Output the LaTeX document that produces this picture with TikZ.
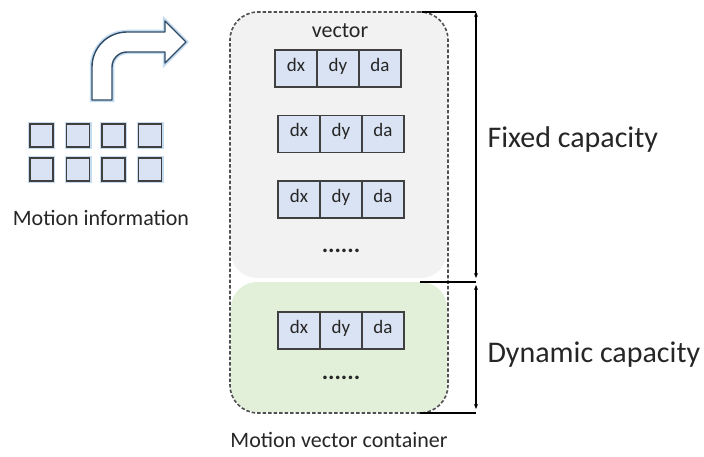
\documentclass[tikz,border=0pt]{standalone}
\usepackage{fontspec}
\setmainfont{Carlito}
\usepackage{tikz}
\usetikzlibrary{positioning,arrows.meta}
\definecolor{cellfill}{HTML}{DAE3F3}
\definecolor{cellline}{HTML}{404040}
\definecolor{glowc}{HTML}{C5DCF0}
\definecolor{arrowline}{HTML}{2F4A66}
\definecolor{fixedfill}{HTML}{F2F2F2}
\definecolor{dynfill}{HTML}{E2F0D9}
\definecolor{dashc}{HTML}{505050}
\colorlet{textc}{black!85}
\newcommand{\vecrow}[3]{% dx dy da
\node[cell] (#1x) at (#2,#3) {dx};
\node[cell, right=0pt of #1x] (#1y) {dy};
\node[cell, right=0pt of #1y] (#1a) {da};
}
\tikzstyle{cell} = [
    draw=cellline,
    fill=cellfill,
    line width=1.2pt,
    minimum width=42pt,
    minimum height=37pt,
    inner sep=0pt,
    outer sep=0pt,
    text height=9pt,
    text depth=3pt,
    text=textc,
    font=\fontsize{19}{19}\selectfont
    ]
\tikzstyle{sq} = [
    draw=cellline,
    fill=cellfill,
    line width=1.2pt,
    minimum size=23pt,
    inner sep=0pt,
    preaction={draw=glowc, line width=4pt}
    ]
\tikzstyle{region} = [
    rounded corners=26pt,
    inner sep=0pt,
    minimum width=216pt
    ]
\tikzstyle{bracket} = [line width=1.3pt, black]
\tikzstyle{small} = [text=textc, font=\fontsize{22}{22}\selectfont]
\tikzstyle{big} = [text=textc, font=\fontsize{30}{30}\selectfont, anchor=west]

\begin{document}
\begin{tikzpicture}[x=1pt, y=-1pt]
\useasboundingbox (0,0) rectangle (704,457);

% bent arrow
\draw[arrowline, line width=1.4pt, line join=round, fill=white,
    preaction={draw=glowc, line width=4.5pt}]
    (92,100) -- (92,67) arc (180:270:35) -- (165,32) -- (165,21)
    -- (186,42) -- (165,63) -- (165,52) -- (127,52) arc (270:180:15)
    -- (112,100) -- cycle;

\node[sq] (m11) at (41.5,135.5) {};
\node[sq] (m12) at (78,135.5) {};
\node[sq] (m13) at (113.5,135.5) {};
\node[sq] (m14) at (150,135.5) {};
\node[sq] (m21) at (41.5,169.5) {};
\node[sq] (m22) at (78,169.5) {};
\node[sq] (m23) at (113.5,169.5) {};
\node[sq] (m24) at (150,169.5) {};
\node[small] (minfo) at (101,218) {Motion information};

% container
\node[region, fill=fixedfill, minimum height=265pt] (fixed) at (339,145.5) {};
\node[region, fill=dynfill, minimum height=130pt] (dyn) at (339,347) {};
\node[draw=dashc, dash pattern=on 3.5pt off 2pt, line width=1.6pt,
    rounded corners=28pt, minimum width=218pt, minimum height=401pt,
    inner sep=0pt] (cont) at (339,212.5) {};

\node[small] (vlabel) at (340,31) {vector};
\vecrow{ra}{296}{68.5}
\vecrow{rb}{299}{134}
\vecrow{rc}{299}{199.5}
\node[small, font=\bfseries\fontsize{24}{24}\selectfont] (dotsa) at (341,251) {......};
\vecrow{rd}{299}{330.5}
\node[small, font=\bfseries\fontsize{24}{24}\selectfont] (dotsb) at (341,378) {......};
\node[small] (clabel) at (339,440) {Motion vector container};

% capacity brackets
\coordinate (ttop) at (422,12);
\coordinate (tmid) at (420,282);
\coordinate (tbot) at (420,413);
\coordinate (ftop) at (476,12);
\coordinate (fmid) at (476,282);
\coordinate (fbot) at (476,413);
\draw[bracket] (ttop) -- (ftop);
\draw[bracket] (tmid) -- (fmid);
\draw[bracket] (tbot) -- (fbot);
\draw[bracket, {Stealth[length=5pt,width=4pt]}-{Stealth[length=5pt,width=4pt]},
    shorten >=4pt] (ftop) -- (fmid);
\draw[bracket, {Stealth[length=5pt,width=4pt]}-{Stealth[length=5pt,width=4pt]},
    shorten <=3pt, shorten >=4pt] (fmid) -- (fbot);
\node[big] (fixedlabel) at (484,140) {Fixed capacity};
\node[big] (dynlabel) at (484,355) {Dynamic capacity};
\end{tikzpicture}
\end{document}
